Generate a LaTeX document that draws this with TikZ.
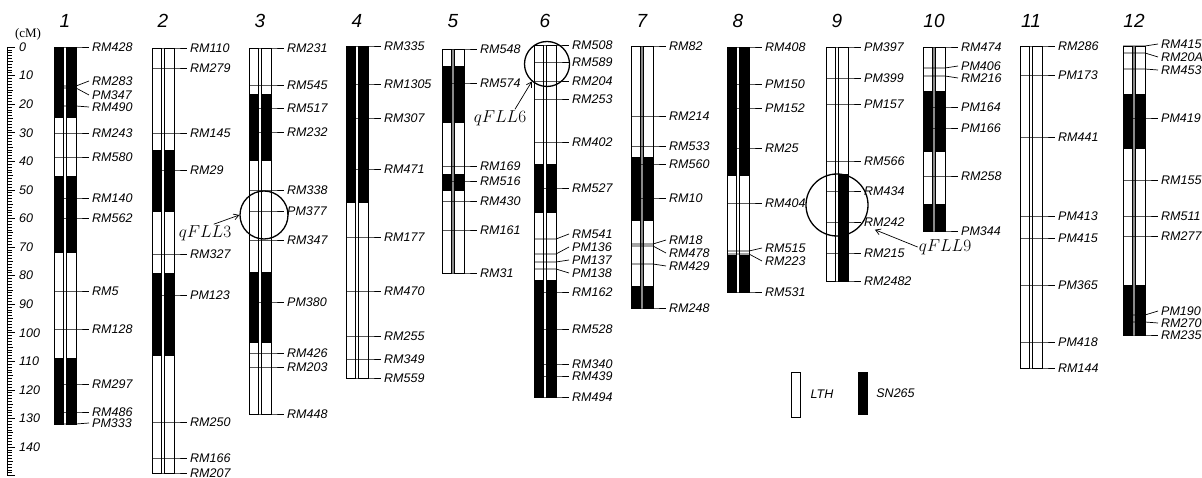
\documentclass[tikz,border=0pt]{standalone}
\usepackage[no-math]{fontspec}
\setmainfont{Liberation Serif}
\setsansfont{Liberation Sans}
\usepackage{tikz}
\usetikzlibrary{arrows.meta,calc,positioning}
\definecolor{dgap}{HTML}{8A8A8A}
\tikzset{
  >={Straight Barb[length=5pt,width=6pt]},
  dbar/.style={draw=black, line width=0.9pt},
  dsn/.style={fill=black},
  dmk/.style={black, line width=0.7pt},
  dlbl/.style={anchor=west, inner xsep=3pt, inner ysep=2pt, font=\fontsize{12.5}{13}\selectfont\sffamily\itshape},
  dnum/.style={font=\fontsize{19}{20}\selectfont\sffamily\itshape},
  dtick/.style={black, line width=0.6pt},
  dscale/.style={anchor=west, inner sep=0pt, font=\fontsize{12.5}{13}\selectfont\sffamily\itshape},
  dring/.style={circle, draw=black, line width=1.3pt, inner sep=0pt},
  dqtl/.style={font=\fontsize{17.5}{18}\selectfont, inner sep=1pt},
  darr/.style={->, line width=0.7pt},
}

\begin{document}
\begin{tikzpicture}[x=1pt,y=-1pt]
  \useasboundingbox (0,0) rectangle (1202,478);

  % escala em cM
  \draw[dtick] (7,47) -- (7,476);
  \foreach \cm in {0,...,150}{
    \pgfmathsetmacro\tk{ifthenelse(mod(\cm,10)==0,8,ifthenelse(mod(\cm,5)==0,6,4.5))}
    \draw[dtick] (7,{47+2.857*\cm}) -- ++(\tk,0);
  }
  \foreach \cm in {0,10,...,140}
    \node[dscale] (s\cm) at (19,{47+2.857*\cm}) {\cm};
  \node[font=\fontsize{13}{14}\selectfont] (unit) at (28,34) {(cM)};

  % cromossomos: numero / x / topo / base / faixa central / blocos SN265 / marcadores
  \fill[dsn] (838.5,174) rectangle (848,281); % cromossomo 9, so um lado
  \foreach \cn/\cx/\ctop/\cbot/\gc/\blk/\mks in {%
    1/54/47/424/white/{47/118,176/253,358/424}/{47/47/RM428,86/81/RM283,88/95/PM347,106/107/RM490,133/133/RM243,157/157/RM580,198/198/RM140,218/218/RM562,291/291/RM5,329/329/RM128,384/384/RM297,412/412/RM486,424/423/PM333},
    2/152/48/473/white/{150/212,273/356}/{48/48/RM110,68/68/RM279,133/133/RM145,170/170/RM29,254/254/RM327,295/295/PM123,422/422/RM250,458/458/RM166,473/473/RM207},
    3/249/48/414/white/{94/161,272/343}/{48/48/RM231,85/85/RM545,108/108/RM517,132/132/RM232,190/190/RM338,211/211/PM377,240/240/RM347,302/302/PM380,353/353/RM426,367/367/RM203,414/414/RM448},
    4/346/46/378/white/{46/203}/{46/46/RM335,84/84/RM1305,118/118/RM307,169/169/RM471,237/237/RM177,291/291/RM470,336/336/RM255,359/359/RM349,378/378/RM559},
    5/442/49/273/dgap/{66/123,174/191}/{49/49/RM548,83/83/RM574,166/166/RM169,181/181/RM516,201/201/RM430,230/230/RM161,273/273/RM31},
    6/534/45/397/white/{164/213,280/397}/{45/45/RM508,62/62/RM589,81/81/RM204,99/99/RM253,142/142/RM402,188/188/RM527,239/234/RM541,254/247/PM136,262/260/PM137,269/273/PM138,292/292/RM162,329/329/RM528,364/364/RM340,376/376/RM439,397/397/RM494},
    7/631/46/308/dgap/{157/221,286/308}/{46/46/RM82,116/116/RM214,146/146/RM533,164/164/RM560,198/198/RM10,244/240/RM18,246/253/RM478,264/266/RM429,308/308/RM248},
    8/727/47/292/white/{47/176,255/292}/{47/47/RM408,84/84/PM150,108/108/PM152,148/148/RM25,203/203/RM404,251/248/RM515,254/261/RM223,292/292/RM531},
    9/826/47/281/white/{0/0}/{47/47/PM397,78/78/PM399,104/104/PM157,161/161/RM566,191/191/RM434,222/222/RM242,253/253/RM215,281/281/RM2482},
    10/923/47/231/dgap/{91/152,204/231}/{47/47/RM474,68/66/PM406,76/78/RM216,107/107/PM164,128/128/PM166,176/176/RM258,231/231/PM344},
    11/1020/46/368/white/{0/0}/{46/46/RM286,75/75/PM173,137/137/RM441,216/216/PM413,238/238/PM415,285/285/PM365,342/342/PM418,368/368/RM144},
    12/1123/46/335/dgap/{94/149,285/335}/{46/44/RM415,53/57/RM20A,69/70/RM453,118/118/PM419,180/180/RM155,216/216/RM511,236/236/RM277,315/311/PM190,322/323/RM270,335/335/RM235}%
  }{
    \begin{scope}[shift={(\cx,0)}]
      \fill[\gc] (9.5,\ctop) rectangle (12.5,\cbot);
      \foreach \a/\b in \blk {
        \fill[dsn] (0,\a) rectangle (9.5,\b);
        \fill[dsn] (12.5,\a) rectangle (22,\b);
      }
      \draw[dbar] (0,\ctop) rectangle (9.5,\cbot);
      \draw[dbar] (12.5,\ctop) rectangle (22,\cbot);
      \node[dnum] (n\cn) at (11,21) {\cn};
      \foreach \m/\l/\nm [count=\mi] in \mks {
        \node[dlbl] (c\cn-\mi) at (35,\l) {\nm};
        \draw[dmk] (0,\m) -- (22,\m) -- (c\cn-\mi.west);
      }
    \end{scope}
  }

  % QTLs
  \node[dring, minimum size=48pt] (q3) at (264,215) {};
  \node[dring, minimum size=45pt] (q6) at (547,64) {};
  \node[dring, minimum size=62pt] (q9) at (837,205) {};
  \node[dqtl] (t3) at (205,233) {$qFLL3$};
  \node[dqtl] (t6) at (500,118) {$qFLL6$};
  \node[dqtl] (t9) at (945,247) {$qFLL9$};
  \draw[darr] (t3.45) -- (q3.west);
  \draw[darr] ($(t6.north)+(15,0)$) -- (q6.229);
  \draw[darr, shorten >=14pt] (t9.west) -- (q9.322);

  % legenda
  \node[draw, line width=0.9pt, minimum width=9pt, minimum height=45pt, inner sep=0pt] (klth) at (795.5,394.5) {};
  \node[dlbl, right=7pt of klth] (tlth) {LTH};
  \node[fill=black, minimum width=10pt, minimum height=43pt, inner sep=0pt] (ksn) at (863,393.5) {};
  \node[dlbl, right=5pt of ksn] (tsn) {SN265};

\end{tikzpicture}
\end{document}
